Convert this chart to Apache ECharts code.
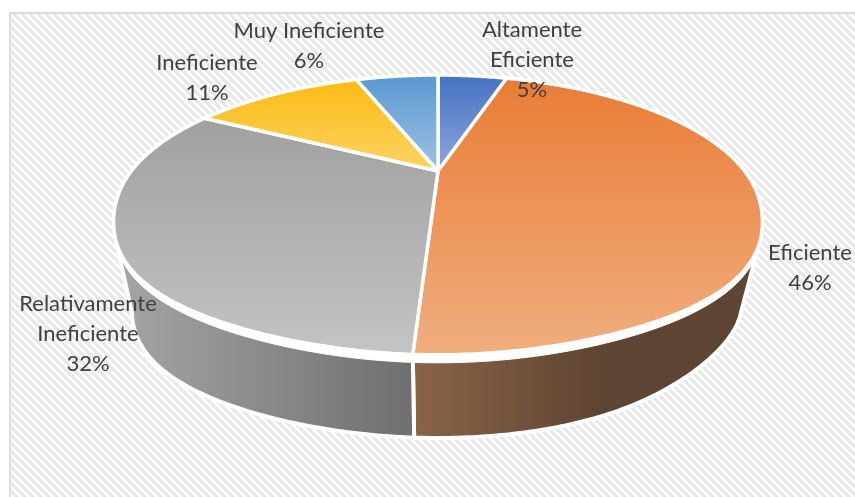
<!DOCTYPE html>
<html><head><meta charset="utf-8">
<style>html,body{margin:0;padding:0;background:#fff}#c{width:855px;height:497px}</style>
<script src="https://cdn.jsdelivr.net/npm/echarts@6/dist/echarts.min.js"></script>
</head><body><div id="c"></div>
<script>
const categories = ['Altamente\nEficiente','Eficiente','Relativamente\nIneficiente','Ineficiente','Muy Ineficiente'];
const values = [4.7,46.2,32.1,11.4,5.6];
const faceTop = ['#4472c4','#e97c35','#a0a0a0','#fdba12','#5797d0'];
const faceBottom = ['#8fa6da','#f1ae80','#c4c4c4','#fcd466','#a0c3e6'];
const wallLeft = ['#000','#8a6448','#a6a6a6','#000','#000'];
const wallRight = ['#000','#5e4432','#6e6e6e','#000','#000'];
const labelCenters = [[532,60],[810,267.5],[88,334],[207,78],[309,46]];

// Perspective projection of the pie disc
const CX=438, K=0.314, A=171, B=-72.4, C=306.6, CY1=215, CY2=306, S=0.944;
function base(deg){
  const t=deg*Math.PI/180, u=Math.sin(t), v=Math.cos(t), d=1+K*v;
  return [CX+C*u/d,(A+B*v)/d];
}
function bulge(deg,amount){
  const t=deg*Math.PI/180;
  return Math.cos(t)<0 ? 1+amount*Math.pow(Math.sin(2*t),4) : 1;
}
function proj(deg){
  const p=base(deg), f=bulge(deg,0.03);
  return [CX+(p[0]-CX)*f, CY1+(p[1]-CY1)*f];
}
function low(deg){
  const p=base(deg), f=bulge(deg,Math.sin(deg*Math.PI/180)<0?0.025:-0.025);
  return [CX+(p[0]-CX)*S*f, CY2+(p[1]-CY1)*S*f];
}
function arc(fn,a,b){
  const n=Math.max(2,Math.ceil(Math.abs(b-a)*1.5)),pts=[];
  for(let i=0;i<=n;i++) pts.push(fn(a+(b-a)*i/n));
  return pts;
}
const total=values.reduce((s,v)=>s+v,0);
const starts=[];values.reduce((s,v,i)=>{starts[i]=s;return s+v;},0);
const T_R=116,T_L=244,B_R=111.2,B_L=248.8;

// Hatched panel tile
const tile=document.createElement('canvas');tile.width=8;tile.height=8;
const g=tile.getContext('2d');g.fillStyle='#fff';g.fillRect(0,0,8,8);
g.strokeStyle='#e7e7e7';g.lineWidth=3.2;
[[-8,-8,8,8],[0,-8,16,8],[-8,0,8,16]].forEach(l=>{g.beginPath();g.moveTo(l[0],l[1]);g.lineTo(l[2],l[3]);g.stroke();});

function renderItem(params,api){
  const i=params.dataIndex;
  const a0=starts[i]/total*360, a1=(starts[i]+values[i])/total*360;
  const kids=[];
  const lo=Math.max(a0,T_R), hi=Math.min(a1,T_L);
  if(hi>lo){
    const lo2=a0<T_R?B_R:a0, hi2=a1>T_L?B_L:a1;
    const pts=arc(proj,lo,hi).concat(arc(low,hi2,lo2));
    kids.push({type:'polygon',z2:1,shape:{points:pts},style:{
      fill:new echarts.graphic.LinearGradient(a0<180?1:0,0,a0<180?0:1,0,
        [{offset:0,color:a0<180?wallRight[i]:wallLeft[i]},
         ...(a0<180?[{offset:0.45,color:wallRight[i]}]:[]),
         {offset:1,color:a0<180?wallLeft[i]:wallRight[i]}]),
      stroke:'#fff',lineWidth:4}});
    // white bevel between the front wall and the face, thinning towards the sides
    const bevelHeight=d=>Math.max(0,8*Math.abs(Math.cos(d*Math.PI/180)));
    const upper=arc(proj,lo,hi);
    const lower=arc(d=>{const p=proj(d);return [p[0],p[1]+bevelHeight(d)];},hi,lo);
    kids.push({type:'polygon',z2:2,shape:{points:upper.concat(lower)},
      style:{fill:'#fff',stroke:'#fff',lineWidth:1}});
  }
  const face=[[CX,A]].concat(arc(proj,a0,a1));
  kids.push({type:'polygon',z2:3,shape:{points:face},style:{
    fill:new echarts.graphic.LinearGradient(0,0,0,1,[{offset:0,color:faceTop[i]},{offset:1,color:faceBottom[i]}]),
    stroke:'#fff',lineWidth:3.5,lineJoin:'round'}});
  const lc=labelCenters[i];
  kids.push({type:'text',z2:5,x:lc[0],y:lc[1],style:{
    text:api.value(0)+'\n'+Math.round(values[i])+'%',align:'center',verticalAlign:'middle',
    fontFamily:'Lato',fontSize:22,lineHeight:30,fill:'#404040'}});
  return {type:'group',children:kids};
}

const chart=echarts.init(document.getElementById('c'),null,{renderer:'canvas'});
chart.setOption({
  animation:false,
  backgroundColor:'#fff',
  graphic:[{type:'rect',z:-1,shape:{x:10,y:13,width:860,height:500},
    style:{fill:{image:tile,repeat:'repeat'},stroke:'#dcdcdc',lineWidth:2}}],
  series:[{type:'custom',coordinateSystem:'none',renderItem,z:2,
    data:categories.map((c,i)=>({name:c,value:[c,values[i]]}))}]
});
</script></body></html>
